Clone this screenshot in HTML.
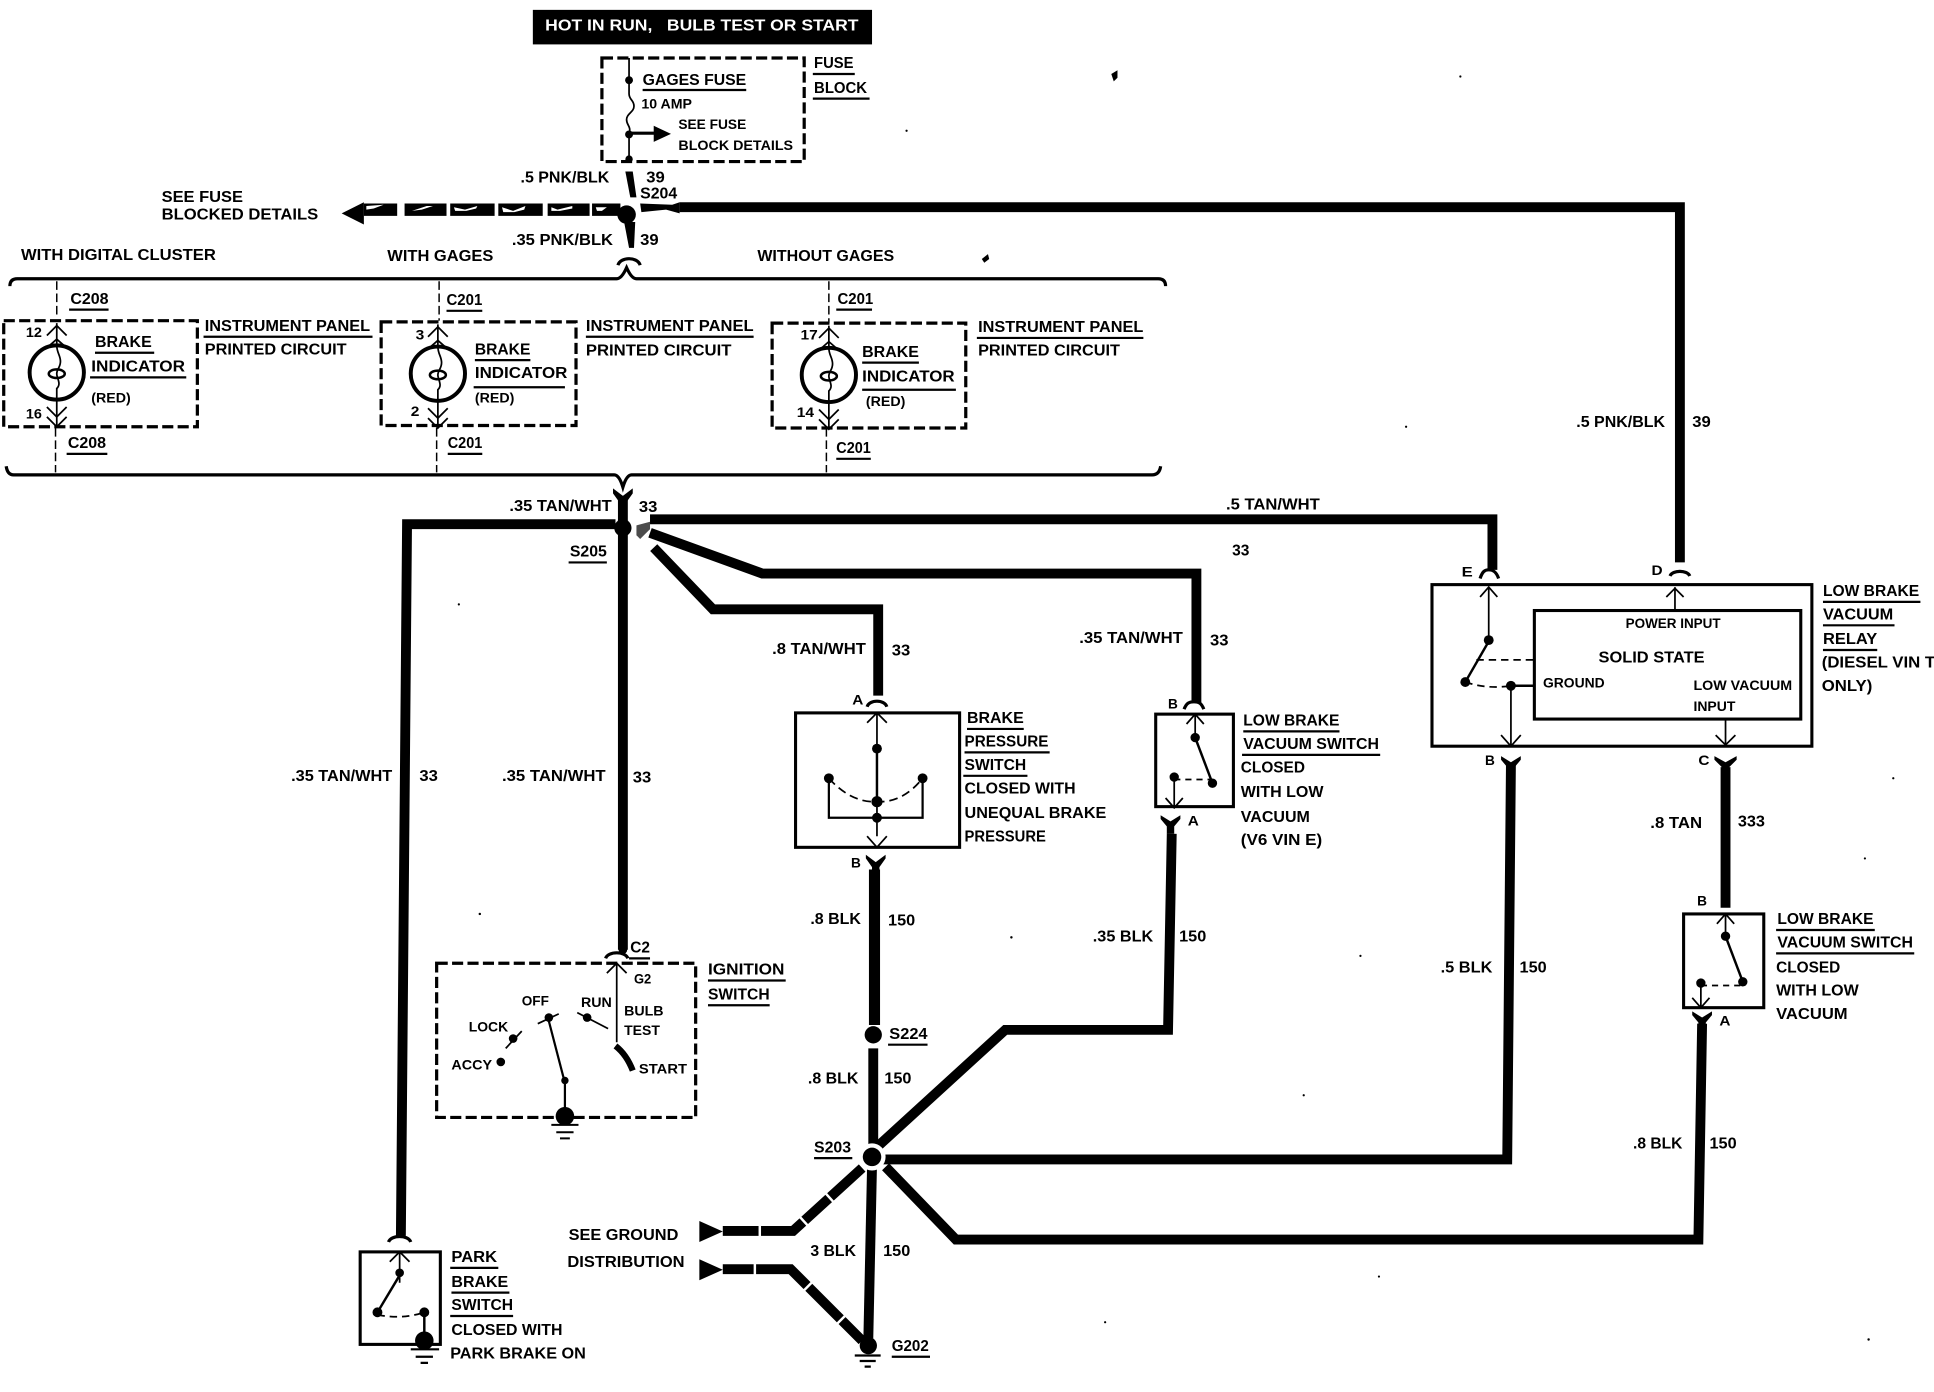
<!DOCTYPE html>
<html><head><meta charset="utf-8"><style>
html,body{margin:0;padding:0;background:#fff}
svg{display:block}
text{font-family:"Liberation Sans",sans-serif;font-weight:bold;font-size:13px;fill:#000;transform:translateY(-.7px)}
.s{font-size:11.5px}
.k{fill:none;stroke:#000;stroke-width:1.4}
.w{fill:none;stroke:#000;stroke-width:8;stroke-linejoin:miter}
.m{fill:none;stroke:#000;stroke-width:8}
.b{fill:none;stroke:#000;stroke-width:2.5}
.d{fill:none;stroke:#000;stroke-width:2.6;stroke-dasharray:9 3.5}
.t{fill:none;stroke:#000;stroke-width:1.2;stroke-dasharray:7 3}
.u{stroke:#000;stroke-width:1.8}
.c{fill:none;stroke:#000;stroke-width:2.6}
.x{stroke:#fff;stroke-width:2;fill:none}
.h{fill:#fff}
</style></head><body>
<svg width="1934" height="1392" viewBox="0 0 1568 1128.6" xmlns="http://www.w3.org/2000/svg">
<rect width="1568" height="1129" fill="#fff"/>
<!-- top -->
<rect x="432" y="8" width="275" height="28" fill="#000"/>
<text x="442" y="25.500" textLength="254" lengthAdjust="spacingAndGlyphs" style="fill:#fff" xml:space="preserve">HOT IN RUN,   BULB TEST OR START</text>
<rect x="488" y="47" width="164" height="84" class="d"/>
<path class="k" d="M510 47V76c0 5 4 5 4 10s-6 6-6 11 4 5 2 12v22"/>
<circle cx="510" cy="65" r="3.2"/><circle cx="510" cy="109" r="3.2"/><circle cx="510" cy="129" r="3"/>
<path d="M510 108h22" stroke="#000" stroke-width="2.5"/><path d="M530 102l14 6.500-14 6.500z"/>
<text x="660" y="56" textLength="32" lengthAdjust="spacingAndGlyphs">FUSE</text><line class="u" x1="659" y1="60" x2="693" y2="60"/>
<text x="660" y="76" textLength="43" lengthAdjust="spacingAndGlyphs">BLOCK</text><line class="u" x1="659" y1="80" x2="705" y2="80"/>
<text x="521" y="69.500" textLength="84" lengthAdjust="spacingAndGlyphs">GAGES FUSE</text><line class="u" x1="521" y1="73" x2="605" y2="73"/>
<text class="s" x="520" y="88.500" textLength="41" lengthAdjust="spacingAndGlyphs">10 AMP</text>
<text class="s" x="550" y="105.500" textLength="55" lengthAdjust="spacingAndGlyphs">SEE FUSE</text>
<text class="s" x="550" y="122.500" textLength="93" lengthAdjust="spacingAndGlyphs">BLOCK DETAILS</text>
<text x="422" y="148.500" textLength="72" lengthAdjust="spacingAndGlyphs">.5 PNK/BLK</text><text x="524" y="148.500" textLength="15" lengthAdjust="spacingAndGlyphs">39</text>
<text x="519" y="161.500" textLength="30" lengthAdjust="spacingAndGlyphs">S204</text>
<path d="M507 139h6l3 21h-5z"/>
<path d="M506 180h9l-1 21h-4z"/>
<circle cx="508" cy="174" r="7.500"/>
<text x="131" y="164.500" textLength="66" lengthAdjust="spacingAndGlyphs">SEE FUSE</text><text x="131" y="178.500" textLength="127" lengthAdjust="spacingAndGlyphs">BLOCKED DETAILS</text>
<path d="M277 173l18-9v18z"/>
<path d="M295 165h27v10h-27zM328 165h34v10h-34zM365 165h36v10h-36zM404 165h36v10h-36zM444 165h34v10h-34zM480 165h23v10h-23z"/>
<path class="h" d="M297 167l14-1-8 3-6 1zM334 171l12-4 5 0-9 3zM368 168l9 2 10-3-1 2-8 2-9 0zM407 168l9 3 10-4-1 3-8 2-9 0zM447 168l5 2 12-3 0 2-10 2-7 0zM483 168l9 0-4 3-4 0z"/>
<path d="M519 165L545 166 551 164V173L540 170 520 172z"/>
<path class="w" d="M551 168H1362V456"/>
<text x="415" y="199.500" textLength="82" lengthAdjust="spacingAndGlyphs">.35 PNK/BLK</text><text x="519" y="199.500" textLength="15" lengthAdjust="spacingAndGlyphs">39</text>
<path class="c" d="M501 215c2-7 16-7 18 0"/>
<text x="17" y="211.500" textLength="158" lengthAdjust="spacingAndGlyphs">WITH DIGITAL CLUSTER</text>
<text x="314" y="212.500" textLength="86" lengthAdjust="spacingAndGlyphs">WITH GAGES</text>
<text x="614" y="212.500" textLength="111" lengthAdjust="spacingAndGlyphs">WITHOUT GAGES</text>
<!-- brackets -->
<path class="c" d="M8 232q0-6 6-6H500q4 0 8-9 4 9 8 9H939q6 0 6 6"/>
<path class="c" d="M5 378q1 7 6 7H498q4 0 7 10 3-10 7-10H934q6 0 7-7"/>
<!-- indicators -->
<path class="t" d="M46 228V258M45 347V383M356 228V260M354 347V383M672 228V262M670 347V383"/>
<rect x="3" y="260" width="157" height="86" class="d"/>
<rect x="309" y="261" width="158" height="84" class="d"/>
<rect x="626" y="262" width="157" height="85" class="d"/>
<g><ellipse cx="46" cy="302" rx="22" ry="22" fill="none" stroke="#000" stroke-width="3.200"/>
<path class="k" d="M46 262V280c0 6 3 8 3 13s-3 6-3 10 4 8 0 12v16M46 322V346"/>
<ellipse cx="46" cy="303" rx="6.500" ry="3.500" fill="none" stroke="#000" stroke-width="2"/>
<path class="k" d="M38 272l8-8 8 8M38 282l8-7 8 7M38 330l8 8 8-8M38 338l8 8 8-8"/></g>
<g transform="translate(309,1)"><ellipse cx="46" cy="302" rx="22" ry="22" fill="none" stroke="#000" stroke-width="3.200"/>
<path class="k" d="M46 262V280c0 6 3 8 3 13s-3 6-3 10 4 8 0 12v16M46 322V346"/>
<ellipse cx="46" cy="303" rx="6.500" ry="3.500" fill="none" stroke="#000" stroke-width="2"/>
<path class="k" d="M38 272l8-8 8 8M38 282l8-7 8 7M38 330l8 8 8-8M38 338l8 8 8-8"/></g>
<g transform="translate(626,2)"><ellipse cx="46" cy="302" rx="22" ry="22" fill="none" stroke="#000" stroke-width="3.200"/>
<path class="k" d="M46 262V280c0 6 3 8 3 13s-3 6-3 10 4 8 0 12v16M46 322V346"/>
<ellipse cx="46" cy="303" rx="6.500" ry="3.500" fill="none" stroke="#000" stroke-width="2"/>
<path class="k" d="M38 272l8-8 8 8M38 282l8-7 8 7M38 330l8 8 8-8M38 338l8 8 8-8"/></g>
<text x="57" y="247" textLength="31" lengthAdjust="spacingAndGlyphs">C208</text><line class="u" x1="56" y1="251" x2="88" y2="251"/>
<text x="362" y="248" textLength="29" lengthAdjust="spacingAndGlyphs">C201</text><line class="u" x1="362" y1="252" x2="391" y2="252"/>
<text x="679" y="247" textLength="29" lengthAdjust="spacingAndGlyphs">C201</text><line class="u" x1="678" y1="251" x2="707" y2="251"/>
<text x="166" y="269" textLength="134" lengthAdjust="spacingAndGlyphs">INSTRUMENT PANEL</text><line class="u" x1="165" y1="273" x2="302" y2="273"/>
<text x="166" y="288" textLength="115" lengthAdjust="spacingAndGlyphs">PRINTED CIRCUIT</text>
<text x="475" y="269" textLength="136" lengthAdjust="spacingAndGlyphs">INSTRUMENT PANEL</text><line class="u" x1="475" y1="273" x2="611" y2="273"/>
<text x="475" y="289" textLength="118" lengthAdjust="spacingAndGlyphs">PRINTED CIRCUIT</text>
<text x="793" y="270" textLength="134" lengthAdjust="spacingAndGlyphs">INSTRUMENT PANEL</text><line class="u" x1="792" y1="274" x2="927" y2="274"/>
<text x="793" y="289" textLength="115" lengthAdjust="spacingAndGlyphs">PRINTED CIRCUIT</text>
<text x="77" y="282" textLength="46" lengthAdjust="spacingAndGlyphs">BRAKE</text><line class="u" x1="77" y1="286" x2="125" y2="286"/>
<text x="74" y="302" textLength="76" lengthAdjust="spacingAndGlyphs">INDICATOR</text><line class="u" x1="73" y1="306" x2="151" y2="306"/>
<text class="s" x="74" y="327" textLength="32" lengthAdjust="spacingAndGlyphs">(RED)</text>
<text class="s" x="21" y="274" textLength="13" lengthAdjust="spacingAndGlyphs">12</text><text class="s" x="21" y="340" textLength="13" lengthAdjust="spacingAndGlyphs">16</text>
<text x="385" y="288" textLength="45" lengthAdjust="spacingAndGlyphs">BRAKE</text><line class="u" x1="385" y1="292" x2="430" y2="292"/>
<text x="385" y="307" textLength="75" lengthAdjust="spacingAndGlyphs">INDICATOR</text><line class="u" x1="384" y1="314" x2="458" y2="314"/>
<text class="s" x="385" y="327" textLength="32" lengthAdjust="spacingAndGlyphs">(RED)</text>
<text class="s" x="337" y="276" textLength="7" lengthAdjust="spacingAndGlyphs">3</text><text class="s" x="333" y="338" textLength="7" lengthAdjust="spacingAndGlyphs">2</text>
<text x="699" y="290" textLength="46" lengthAdjust="spacingAndGlyphs">BRAKE</text><line class="u" x1="699" y1="294" x2="745" y2="294"/>
<text x="699" y="310" textLength="75" lengthAdjust="spacingAndGlyphs">INDICATOR</text><line class="u" x1="699" y1="316" x2="775" y2="316"/>
<text class="s" x="702" y="330" textLength="32" lengthAdjust="spacingAndGlyphs">(RED)</text>
<text class="s" x="649" y="276" textLength="14" lengthAdjust="spacingAndGlyphs">17</text><text class="s" x="646" y="339" textLength="14" lengthAdjust="spacingAndGlyphs">14</text>
<text x="55" y="364" textLength="31" lengthAdjust="spacingAndGlyphs">C208</text><line class="u" x1="54" y1="368" x2="87" y2="368"/>
<text x="363" y="364" textLength="28" lengthAdjust="spacingAndGlyphs">C201</text><line class="u" x1="363" y1="368" x2="391" y2="368"/>
<text x="678" y="368" textLength="28" lengthAdjust="spacingAndGlyphs">C201</text><line class="u" x1="678" y1="372" x2="706" y2="372"/>
<!-- wires upper -->
<path d="M497 396l8 6 8-6 0 4-5 7h-6l-5-7z"/>
<path class="w" d="M505 402V770"/>
<path class="w" d="M499 425H330L325 1002"/>
<path class="m" d="M527 421H1210V462"/>
<path class="m" d="M527 432L618 465H970V570"/>
<path class="m" d="M530 444L578 494H712V564"/>
<circle cx="505" cy="428" r="7"/>
<path d="M516 426l11-3v6l-8 8-3-3z" fill="#000" opacity=".7"/>
<text x="413" y="415" textLength="83" lengthAdjust="spacingAndGlyphs">.35 TAN/WHT</text><text x="518" y="416" textLength="15" lengthAdjust="spacingAndGlyphs">33</text>
<text x="994" y="414" textLength="76" lengthAdjust="spacingAndGlyphs">.5 TAN/WHT</text><text x="999" y="451" textLength="14" lengthAdjust="spacingAndGlyphs">33</text>
<text x="462" y="452" textLength="30" lengthAdjust="spacingAndGlyphs">S205</text><line class="u" x1="461" y1="456" x2="492" y2="456"/>
<text x="1278" y="347" textLength="72" lengthAdjust="spacingAndGlyphs">.5 PNK/BLK</text><text x="1372" y="347" textLength="15" lengthAdjust="spacingAndGlyphs">39</text>
<text x="626" y="531" textLength="76" lengthAdjust="spacingAndGlyphs">.8 TAN/WHT</text><text x="723" y="532" textLength="15" lengthAdjust="spacingAndGlyphs">33</text>
<text x="875" y="522" textLength="84" lengthAdjust="spacingAndGlyphs">.35 TAN/WHT</text><text x="981" y="524" textLength="15" lengthAdjust="spacingAndGlyphs">33</text>
<text x="236" y="634" textLength="82" lengthAdjust="spacingAndGlyphs">.35 TAN/WHT</text><text x="340" y="634" textLength="15" lengthAdjust="spacingAndGlyphs">33</text>
<text x="407" y="634" textLength="84" lengthAdjust="spacingAndGlyphs">.35 TAN/WHT</text><text x="513" y="635" textLength="15" lengthAdjust="spacingAndGlyphs">33</text>
<!-- relay -->
<rect x="1161" y="474" width="308" height="131" class="b"/>
<rect x="1244" y="495" width="216" height="88" class="b"/>
<path class="c" d="M1200 469c2-6 4-7 7-7s6 1 8 7"/>
<path class="c" d="M1354 467c2-5 14-5 16 0"/>
<path class="k" d="M1207 476V520M1200 484l7-8 7 8M1358 495V476M1351 484l7-7 7 7"/>
<circle cx="1207" cy="519" r="4"/><path d="M1207 520L1188 553" stroke="#000" stroke-width="2"/>
<circle cx="1188" cy="553" r="4"/><circle cx="1225" cy="556" r="4"/>
<path class="k" d="M1197 535H1244M1188 553q18 6 37 3" stroke-dasharray="6 4"/>
<path class="k" d="M1225 556H1244" style="stroke-width:2"/>
<path class="k" d="M1225 556V605M1217 596l8 9 8-9M1399 583V605M1391 596l8 8 8-8"/>
<path d="M1217 613l8 5 8-5 0 3-5 6v6h-6v-6l-5-6zM1390 613l9 5 9-5 0 3-6 6v5h-6v-5l-6-6z"/>
<path class="w" d="M1399 622V736" />
<text x="1185" y="468" class="s" textLength="9" lengthAdjust="spacingAndGlyphs">E</text><text x="1339" y="467" class="s" textLength="9" lengthAdjust="spacingAndGlyphs">D</text>
<text x="1204" y="621" class="s" textLength="8" lengthAdjust="spacingAndGlyphs">B</text><text x="1377" y="621" class="s" textLength="9" lengthAdjust="spacingAndGlyphs">C</text>
<text x="1478" y="484" textLength="78" lengthAdjust="spacingAndGlyphs">LOW BRAKE</text><line class="u" x1="1478" y1="488" x2="1557" y2="488"/>
<text x="1478" y="503" textLength="57" lengthAdjust="spacingAndGlyphs">VACUUM</text><line class="u" x1="1478" y1="507" x2="1536" y2="507"/>
<text x="1478" y="523" textLength="44" lengthAdjust="spacingAndGlyphs">RELAY</text><line class="u" x1="1478" y1="527" x2="1522" y2="527"/>
<text x="1477" y="542" textLength="92" lengthAdjust="spacingAndGlyphs">(DIESEL VIN T</text><text x="1477" y="561" textLength="41" lengthAdjust="spacingAndGlyphs">ONLY)</text>
<text class="s" x="1318" y="510" textLength="77" lengthAdjust="spacingAndGlyphs">POWER INPUT</text>
<text x="1296" y="538" textLength="86" lengthAdjust="spacingAndGlyphs">SOLID STATE</text>
<text class="s" x="1251" y="558" textLength="50" lengthAdjust="spacingAndGlyphs">GROUND</text>
<text class="s" x="1373" y="560" textLength="80" lengthAdjust="spacingAndGlyphs">LOW VACUUM</text>
<text class="s" x="1373" y="577" textLength="34" lengthAdjust="spacingAndGlyphs">INPUT</text>
<text x="1338" y="672" textLength="42" lengthAdjust="spacingAndGlyphs">.8 TAN</text><text x="1409" y="671" textLength="22" lengthAdjust="spacingAndGlyphs">333</text>
<!-- pressure switch -->
<rect x="645" y="578" width="133" height="109" class="b"/>
<path class="c" d="M703 573c2-6 14-6 16 0"/>
<path d="M702 693l8 6 8-6v3l-5 7v4h-6v-4l-5-7z"/>
<path class="k" d="M711 578V678M703 586l8-8 8 8M703 678l8 9 8-9"/>
<path d="M711 606V650" stroke="#000" stroke-width="2"/>
<circle cx="711" cy="607" r="4"/><circle cx="711" cy="650" r="4.500"/><circle cx="672" cy="631" r="4"/><circle cx="748" cy="631" r="4"/><circle cx="711" cy="663" r="4"/>
<path class="k" d="M672 631q18 20 39 19 21 1 37-19" stroke-dasharray="7 4"/>
<path class="k" d="M672 633V663H748V633" style="stroke-width:1.800"/>
<text class="s" x="691" y="572" textLength="9" lengthAdjust="spacingAndGlyphs">A</text><text class="s" x="690" y="704" textLength="8" lengthAdjust="spacingAndGlyphs">B</text>
<text x="784" y="587" textLength="46" lengthAdjust="spacingAndGlyphs">BRAKE</text><line class="u" x1="784" y1="591" x2="830" y2="591"/>
<text x="782" y="606" textLength="68" lengthAdjust="spacingAndGlyphs">PRESSURE</text><line class="u" x1="782" y1="610" x2="851" y2="610"/>
<text x="782" y="625" textLength="50" lengthAdjust="spacingAndGlyphs">SWITCH</text><line class="u" x1="781" y1="629" x2="833" y2="629"/>
<text x="782" y="644" textLength="90" lengthAdjust="spacingAndGlyphs">CLOSED WITH</text>
<text x="782" y="664" textLength="115" lengthAdjust="spacingAndGlyphs">UNEQUAL BRAKE</text>
<text x="782" y="683" textLength="66" lengthAdjust="spacingAndGlyphs">PRESSURE</text>
<!-- vacuum switch 1 -->
<rect x="937" y="579" width="63" height="75" class="b"/>
<path class="c" d="M960 575c2-5 4-6 8-6s6 1 8 6"/>
<path class="k" d="M969 579V600M962 587l7-8 7 8M952 630V655M945 647l7 8 7-8"/>
<circle cx="969" cy="598" r="3.800"/><circle cx="983" cy="635" r="3.800"/><circle cx="952" cy="630" r="3.800"/>
<path d="M969 598L983 635" stroke="#000" stroke-width="2"/>
<path class="k" d="M952 632H983" stroke-dasharray="5 4"/>
<path d="M941 661l8 5 8-5 0 3-5 6v6h-6v-6l-5-6z"/>
<text class="s" x="947" y="575" textLength="8" lengthAdjust="spacingAndGlyphs">B</text><text class="s" x="963" y="670" textLength="9" lengthAdjust="spacingAndGlyphs">A</text>
<text x="1008" y="589" textLength="78" lengthAdjust="spacingAndGlyphs">LOW BRAKE</text><line class="u" x1="1008" y1="593" x2="1086" y2="593"/>
<text x="1008" y="608" textLength="110" lengthAdjust="spacingAndGlyphs">VACUUM SWITCH</text><line class="u" x1="1007" y1="612" x2="1119" y2="612"/>
<text x="1006" y="627" textLength="52" lengthAdjust="spacingAndGlyphs">CLOSED</text>
<text x="1006" y="647" textLength="67" lengthAdjust="spacingAndGlyphs">WITH LOW</text>
<text x="1006" y="667" textLength="56" lengthAdjust="spacingAndGlyphs">VACUUM</text>
<text x="1006" y="686" textLength="66" lengthAdjust="spacingAndGlyphs">(V6 VIN E)</text>
<!-- lower wires -->
<path class="w" d="M709 705V831" style="stroke-width:9"/><path class="w" d="M708 850V932"/>
<circle cx="708" cy="839" r="7"/>
<path class="m" d="M711 930L815 835H947L950 676"/>
<path class="m" d="M715 940H1222L1225 620"/>
<path class="m" d="M718 946L775 1005H1377L1380 830" />
<path d="M1372 820l8 5 8-5 0 3-5 6v6h-6v-6l-5-6z"/>
<path class="w" d="M707 945L704 1085"/>
<circle cx="707" cy="938" r="11" fill="#fff"/><circle cx="707" cy="938" r="7.500"/>
<path class="m" d="M699 947L643 998H586"/>
<path class="m" d="M586 1029H641L699 1087"/>
<path class="x" d="M616 992v12M612 1023v12M668 966l10 11M647 985l10 11M650 1048l10-10M677 1075l10-10"/>
<path d="M567 990l19 8.500-19 8.500zM567 1021l19 8.500-19 8.500z"/>
<circle cx="704" cy="1091" r="7"/>
<path d="M693 1099H714M697 1103.500H710M701 1108H706" stroke="#000" stroke-width="1.800"/>
<text x="657" y="750" textLength="41" lengthAdjust="spacingAndGlyphs">.8 BLK</text><text x="720" y="751" textLength="22" lengthAdjust="spacingAndGlyphs">150</text>
<text x="886" y="764" textLength="49" lengthAdjust="spacingAndGlyphs">.35 BLK</text><text x="956" y="764" textLength="22" lengthAdjust="spacingAndGlyphs">150</text>
<text x="1168" y="789" textLength="42" lengthAdjust="spacingAndGlyphs">.5 BLK</text><text x="1232" y="789" textLength="22" lengthAdjust="spacingAndGlyphs">150</text>
<text x="721" y="843" textLength="31" lengthAdjust="spacingAndGlyphs">S224</text><line class="u" x1="720" y1="847" x2="752" y2="847"/>
<text x="655" y="879" textLength="41" lengthAdjust="spacingAndGlyphs">.8 BLK</text><text x="717" y="879" textLength="22" lengthAdjust="spacingAndGlyphs">150</text>
<text x="660" y="935" textLength="30" lengthAdjust="spacingAndGlyphs">S203</text><line class="u" x1="660" y1="939" x2="691" y2="939"/>
<text x="461" y="1006" textLength="89" lengthAdjust="spacingAndGlyphs">SEE GROUND</text>
<text x="460" y="1028" textLength="95" lengthAdjust="spacingAndGlyphs">DISTRIBUTION</text>
<text x="657" y="1019" textLength="37" lengthAdjust="spacingAndGlyphs">3 BLK</text><text x="716" y="1019" textLength="22" lengthAdjust="spacingAndGlyphs">150</text>
<text x="723" y="1096" textLength="30" lengthAdjust="spacingAndGlyphs">G202</text><line class="u" x1="723" y1="1100" x2="754" y2="1100"/>
<text x="1324" y="932" textLength="40" lengthAdjust="spacingAndGlyphs">.8 BLK</text><text x="1386" y="932" textLength="22" lengthAdjust="spacingAndGlyphs">150</text>
<!-- vacuum switch 2 -->
<rect x="1365" y="741" width="65" height="76" class="b"/>
<path class="k" d="M1399 741V760M1392 749l7-8 7 8M1379 797V817M1372 809l7 8 7-8"/>
<circle cx="1399" cy="759" r="3.800"/><circle cx="1413" cy="796" r="3.800"/><circle cx="1379" cy="797" r="3.800"/>
<path d="M1399 759L1413 796" stroke="#000" stroke-width="2"/>
<path class="k" d="M1379 799H1413" stroke-dasharray="5 4"/>
<text class="s" x="1376" y="735" textLength="8" lengthAdjust="spacingAndGlyphs">B</text><text class="s" x="1394" y="832" textLength="9" lengthAdjust="spacingAndGlyphs">A</text>
<text x="1441" y="750" textLength="78" lengthAdjust="spacingAndGlyphs">LOW BRAKE</text><line class="u" x1="1440" y1="754" x2="1520" y2="754"/>
<text x="1441" y="769" textLength="110" lengthAdjust="spacingAndGlyphs">VACUUM SWITCH</text><line class="u" x1="1440" y1="773" x2="1552" y2="773"/>
<text x="1440" y="789" textLength="52" lengthAdjust="spacingAndGlyphs">CLOSED</text>
<text x="1440" y="808" textLength="67" lengthAdjust="spacingAndGlyphs">WITH LOW</text>
<text x="1440" y="827" textLength="58" lengthAdjust="spacingAndGlyphs">VACUUM</text>
<!-- ignition -->
<path class="w" d="M505 766V770" style="stroke-width:7;stroke-linecap:round"/>
<path class="c" d="M491 777c2-6 16-6 18 0"/>
<rect x="354" y="781" width="210" height="125" class="d"/>
<path class="k" d="M500 781V845M492 789l8-8 8 8"/>
<path d="M499 848q9 7 14 20" fill="none" stroke="#000" stroke-width="5"/>
<circle cx="445" cy="825" r="3.500"/><path class="k" d="M436 830L453 822"/>
<circle cx="476" cy="825" r="3.500"/><path class="k" d="M468 821L493 834"/>
<circle cx="416" cy="842" r="3.500"/><path class="k" d="M410 850L423 836"/>
<circle cx="406" cy="861" r="3.500"/>
<path d="M445 828L458 878" stroke="#000" stroke-width="1.800"/><circle cx="458" cy="876" r="3"/>
<path d="M458 876V900" stroke="#000" stroke-width="1.800"/>
<circle cx="458" cy="905" r="7.500"/>
<path d="M447 912H469M451 918H465M454 923H462" stroke="#000" stroke-width="1.600"/>
<text x="511" y="773" textLength="16" lengthAdjust="spacingAndGlyphs">C2</text><line class="u" x1="510" y1="777" x2="527" y2="777"/>
<text class="s" x="514" y="798" textLength="14" lengthAdjust="spacingAndGlyphs">G2</text>
<text x="574" y="791" textLength="62" lengthAdjust="spacingAndGlyphs">IGNITION</text><line class="u" x1="574" y1="795" x2="637" y2="795"/>
<text x="574" y="811" textLength="50" lengthAdjust="spacingAndGlyphs">SWITCH</text><line class="u" x1="574" y1="815" x2="624" y2="815"/>
<text class="s" x="423" y="816" textLength="22" lengthAdjust="spacingAndGlyphs">OFF</text><text class="s" x="471" y="817" textLength="25" lengthAdjust="spacingAndGlyphs">RUN</text>
<text class="s" x="506" y="824" textLength="32" lengthAdjust="spacingAndGlyphs">BULB</text><text class="s" x="506" y="840" textLength="29" lengthAdjust="spacingAndGlyphs">TEST</text>
<text class="s" x="380" y="837" textLength="32" lengthAdjust="spacingAndGlyphs">LOCK</text><text class="s" x="366" y="868" textLength="33" lengthAdjust="spacingAndGlyphs">ACCY</text>
<text class="s" x="518" y="871" textLength="39" lengthAdjust="spacingAndGlyphs">START</text>
<!-- park brake -->
<path class="c" d="M315 1007c2-6 16-6 18 0"/>
<rect x="292" y="1015" width="65" height="75" class="b"/>
<path class="k" d="M324 1015V1040M316 1023l8-8 8 8"/>
<circle cx="324" cy="1032" r="3.500"/><circle cx="306" cy="1064" r="4"/><circle cx="344" cy="1064" r="4"/>
<path d="M324 1034L306 1064" stroke="#000" stroke-width="2"/>
<path class="k" d="M306 1066q20 4 38-2" stroke-dasharray="6 4"/>
<path d="M344 1066V1080" stroke="#000" stroke-width="2"/>
<circle cx="344" cy="1087" r="7.500"/>
<path d="M333 1094H356M337 1100H351M341 1105H347" stroke="#000" stroke-width="1.800"/>
<text x="366" y="1024" textLength="37" lengthAdjust="spacingAndGlyphs">PARK</text><line class="u" x1="365" y1="1028" x2="404" y2="1028"/>
<text x="366" y="1044" textLength="46" lengthAdjust="spacingAndGlyphs">BRAKE</text><line class="u" x1="366" y1="1048" x2="413" y2="1048"/>
<text x="366" y="1063" textLength="50" lengthAdjust="spacingAndGlyphs">SWITCH</text><line class="u" x1="365" y1="1067" x2="416" y2="1067"/>
<text x="366" y="1083" textLength="90" lengthAdjust="spacingAndGlyphs">CLOSED WITH</text>
<text x="365" y="1102" textLength="110" lengthAdjust="spacingAndGlyphs">PARK BRAKE ON</text>
<!-- specks -->
<path d="M901 60l5-3 0 6-3 3z"/>
<path d="M796 210l5-4 1 4-4 3z"/>
<g><circle cx="735" cy="106" r=".9"/><circle cx="1184" cy="62" r=".9"/><circle cx="1140" cy="346" r=".9"/><circle cx="1535" cy="631" r=".9"/><circle cx="1512" cy="696" r=".9"/><circle cx="820" cy="760" r="1"/><circle cx="1103" cy="775" r=".9"/><circle cx="389" cy="741" r="1"/><circle cx="1515" cy="1086" r="1"/><circle cx="1118" cy="1035" r=".9"/><circle cx="896" cy="1072" r=".9"/><circle cx="1057" cy="888" r=".9"/><circle cx="372" cy="490" r=".9"/></g>
</svg>
</body></html>
